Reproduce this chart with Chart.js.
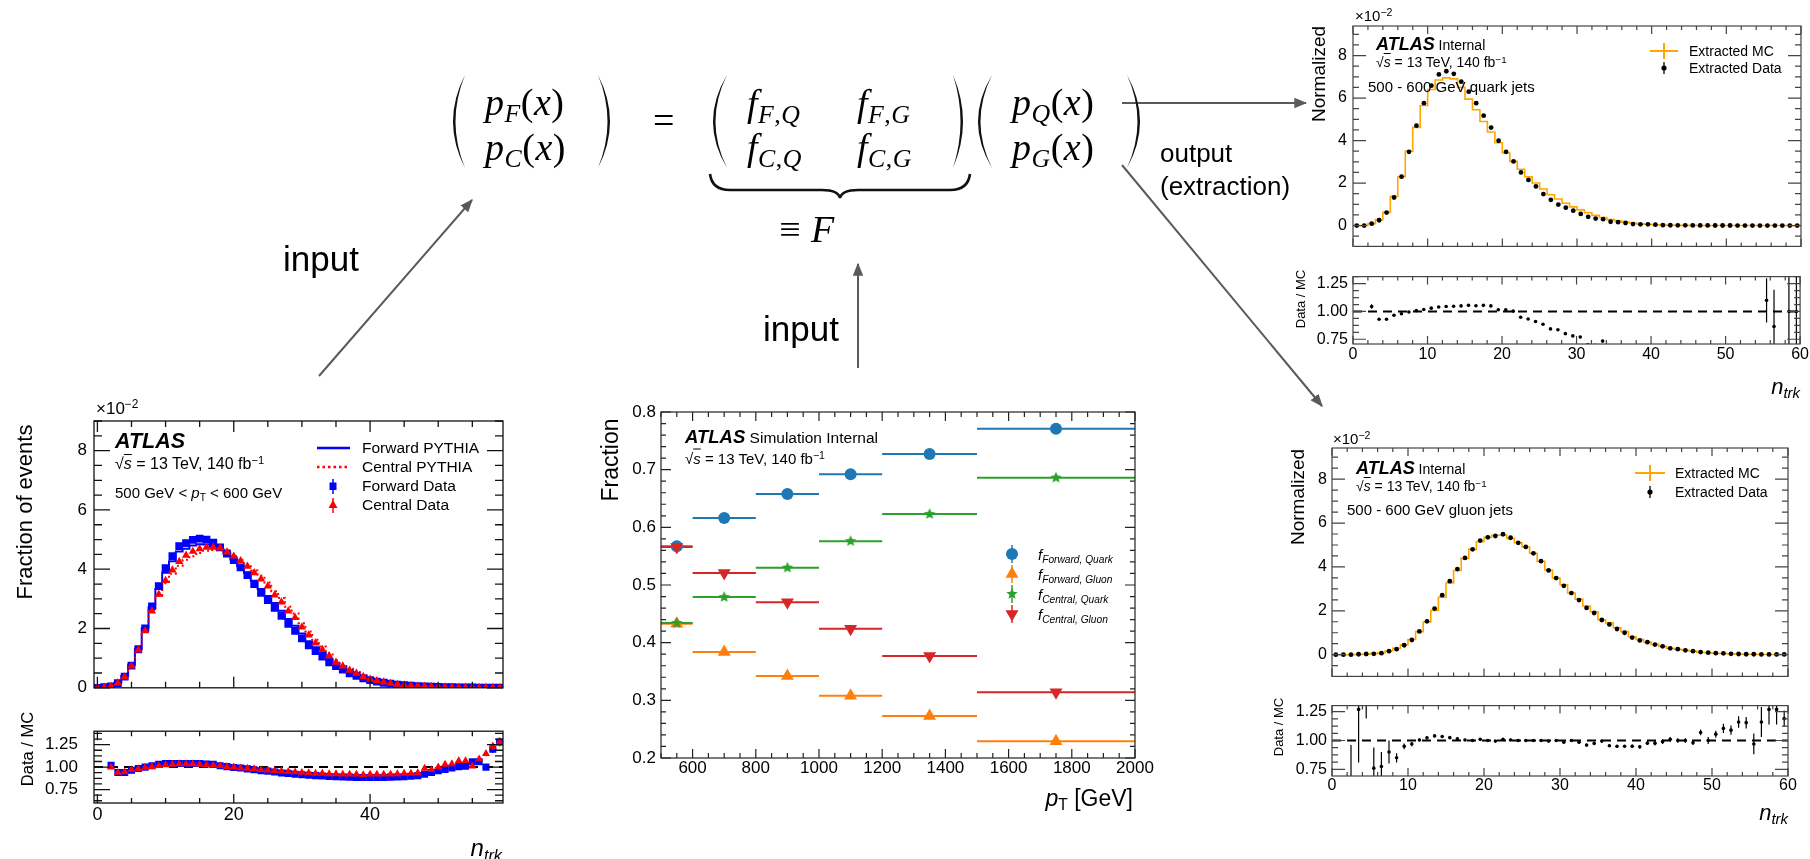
<!DOCTYPE html>
<html><head><meta charset="utf-8">
<script src="https://cdn.jsdelivr.net/npm/chart.js@4.4.0/dist/chart.umd.min.js"></script>
<style>
html,body{margin:0;padding:0;background:#fff;width:1810px;height:859px;overflow:hidden;}
#stage{position:relative;width:1810px;height:859px;font-family:"Liberation Sans",Arial,Helvetica,sans-serif;color:#000;}
#charts canvas{position:absolute;}
svg#ov{position:absolute;left:0;top:0;}
.t{position:absolute;white-space:nowrap;line-height:1;}
sup{font-size:0.7em;vertical-align:0.45em;line-height:0;}
sub{font-size:0.68em;vertical-align:-0.3em;line-height:0;}
.eq{font-family:"Liberation Serif","DejaVu Serif","Times New Roman",serif;font-size:38px;letter-spacing:0.5px;}
.eq sub{font-size:0.68em;vertical-align:-0.28em;}
.ov{text-decoration:overline;font-style:italic;}
</style></head>
<body><div id="stage"><div id="charts"></div>
<svg id="ov" width="1810" height="859" xmlns="http://www.w3.org/2000/svg">
<defs><marker id="ah" viewBox="0 0 10 10" refX="9" refY="5" markerWidth="13" markerHeight="13" markerUnits="userSpaceOnUse" orient="auto"><path d="M0,1 L10,5 L0,9 z" fill="#5a5a5a"/></marker></defs>
<g stroke="#5a5a5a" stroke-width="2" fill="none">
<line x1="319" y1="376" x2="472" y2="200" marker-end="url(#ah)"/>
<line x1="858" y1="368" x2="858" y2="264" marker-end="url(#ah)"/>
<line x1="1122" y1="103" x2="1306" y2="103" marker-end="url(#ah)"/>
<line x1="1122" y1="165" x2="1322" y2="406" marker-end="url(#ah)"/>
</g>
<g fill="#111">
<path d="M465,75 Q441,121.5 465,168 Q446,121.5 465,75 Z"/>
<path d="M598,75 Q622,121.5 598,168 Q617,121.5 598,75 Z"/>
<path d="M727,75 Q699,121.5 727,168 Q704,121.5 727,75 Z"/>
<path d="M953,75 Q973,121.5 953,168 Q968,121.5 953,75 Z"/>
<path d="M992,75 Q964,121.5 992,168 Q969,121.5 992,75 Z"/>
<path d="M1127,75 Q1153,121.5 1127,168 Q1148,121.5 1127,75 Z"/>
</g>
<path d="M710,174 Q712,190 730,190 L822,190 Q838,190 840,198 Q842,190 858,190 L950,190 Q968,190 970,174" stroke="#111" stroke-width="2.6" fill="none"/>
<g id="legsym"></g>
</svg>
<div id="texts"></div>
</div>
<script>
// ================= DATA =================
const nTrk = [0,1,2,3,4,5,6,7,8,9,10,11,12,13,14,15,16,17,18,19,20,21,22,23,24,25,26,27,28,29,30,31,32,33,34,35,36,37,38,39,40,41,42,43,44,45,46,47,48,49,50,51,52,53,54,55,56,57,58,59];

// Left: inclusive forward/central distributions (x10^-2), bins centred on integers
const fwdData = [0.00,0.02,0.05,0.16,0.38,0.75,1.30,2.00,2.75,3.43, 4.04,4.44,4.78,4.88,4.99,5.03,5.00,4.90,4.74,4.53, 4.31,4.06,3.80,3.50,3.20,2.96,2.70,2.43,2.16,1.92, 1.67,1.43,1.24,1.05,0.86,0.73,0.61,0.49,0.40,0.32, 0.26,0.21,0.17,0.14,0.11,0.09,0.075,0.06,0.05,0.04, 0.032,0.026,0.02,0.016,0.013,0.01,0.008,0.006,0.005,0.004];
const cenData = [0.00,0.02,0.05,0.16,0.36,0.73,1.27,1.92,2.59,3.15, 3.62,3.97,4.26,4.47,4.60,4.69,4.74,4.74,4.71,4.58, 4.44,4.28,4.10,3.88,3.67,3.43,3.13,2.89,2.59,2.37, 2.05,1.78,1.51,1.29,1.08,0.86,0.73,0.59,0.49,0.38, 0.29,0.24,0.19,0.15,0.12,0.09,0.075,0.06,0.05,0.04, 0.032,0.026,0.02,0.016,0.013,0.01,0.008,0.006,0.005,0.004];
const fwdMC = [0.00,0.02,0.05,0.17,0.40,0.78,1.32,2.00,2.71,3.33, 3.88,4.27,4.60,4.69,4.80,4.84,4.83,4.76,4.67,4.51, 4.33,4.10,3.88,3.61,3.33,3.10,2.86,2.60,2.32,2.09, 1.83,1.57,1.37,1.17,0.96,0.82,0.69,0.55,0.45,0.36, 0.29,0.24,0.19,0.16,0.124,0.10,0.083,0.066,0.054,0.043, 0.033,0.027,0.02,0.016,0.013,0.009,0.0075,0.006,0.004,0.003];
const cenMC = [0.00,0.02,0.05,0.17,0.38,0.75,1.30,1.93,2.58,3.10, 3.53,3.85,4.12,4.32,4.44,4.55,4.62,4.65,4.64,4.56, 4.44,4.32,4.16,3.96,3.78,3.55,3.26,3.03,2.73,2.51, 2.18,1.90,1.62,1.39,1.17,0.93,0.79,0.64,0.53,0.42, 0.32,0.26,0.21,0.16,0.13,0.097,0.08,0.064,0.051,0.042, 0.032,0.025,0.019,0.015,0.012,0.01,0.007,0.005,0.004,0.003];
const fwdRatio = [null,null,1.02,0.94,0.94,0.965,0.985,1.0,1.015,1.03, 1.04,1.04,1.04,1.04,1.04,1.04,1.035,1.03,1.015,1.005, 0.995,0.99,0.98,0.97,0.96,0.955,0.945,0.935,0.93,0.92, 0.915,0.91,0.905,0.90,0.895,0.893,0.89,0.888,0.885,0.885, 0.885,0.885,0.885,0.888,0.89,0.892,0.898,0.905,0.92,0.94, 0.96,0.975,0.99,1.005,1.01,1.06,1.06,1.0,1.2,1.28];
const cenRatio = [null,null,1.0,0.94,0.945,0.97,0.98,0.995,1.005,1.015, 1.025,1.03,1.035,1.035,1.035,1.03,1.025,1.02,1.015,1.005, 1.0,0.99,0.985,0.98,0.97,0.965,0.96,0.955,0.95,0.945, 0.94,0.935,0.93,0.93,0.925,0.925,0.92,0.92,0.92,0.915, 0.92,0.92,0.92,0.92,0.925,0.93,0.93,0.935,0.985,0.97, 1.0,1.03,1.035,1.07,1.07,1.01,1.09,1.15,1.23,1.28];
const fwdRatioErr = [0,0,0,0,0,0,0,0,0,0, 0,0,0,0,0,0,0,0,0,0, 0,0,0,0,0,0,0,0,0,0, 0,0,0,0,0,0,0,0,0,0, 0,0,0,0,0,0,0,0,0,0, 0,0,0,0,0,0,0.02,0.02,0.04,0.04];
const cenRatioErr = [0,0,0,0,0,0,0,0,0,0, 0,0,0,0,0,0,0,0,0,0, 0,0,0,0,0,0,0,0,0,0, 0,0,0,0,0,0,0,0,0,0, 0,0,0,0,0,0,0,0,0,0, 0,0,0,0,0,0,0.02,0.03,0.04,0.05];

// Middle: fractions vs pT
const ptBinLow  = [500, 600, 800, 1000, 1200, 1500];
const ptBinHigh = [600, 800, 1000, 1200, 1500, 2000];
const ptCenter  = [550, 700, 900, 1100, 1350, 1750];
const fFwdQuark = [0.567, 0.616, 0.658, 0.692, 0.727, 0.771];
const fFwdGluon = [0.433, 0.384, 0.342, 0.308, 0.273, 0.229];
const fCenQuark = [0.434, 0.479, 0.530, 0.576, 0.623, 0.686];
const fCenGluon = [0.566, 0.521, 0.470, 0.424, 0.377, 0.314];

// Right: extracted quark / gluon (x10^-2), bins [n, n+1]
const quarkData = [0.00,0.00,0.09,0.25,0.61,1.32,2.30,3.47,4.70,5.76, 6.58,7.11,7.26,7.14,6.77,6.30,5.76,5.17,4.61,3.99, 3.47,3.02,2.50,2.15,1.84,1.48,1.21,0.99,0.84,0.70, 0.55,0.41,0.33,0.30,0.18,0.16,0.12,0.07,0.06,0.06, 0.04,0.02,0.015,0.01,0.01,0.008,0.006,0.005,0.004,0.003, 0.003,0.002,0.002,0.002,0.001,0.001,0.001,0.001,0.001,0.001];
const quarkMC = [0.00,0.00,0.09,0.28,0.62,1.38,2.30,3.50,4.62,5.65, 6.40,6.85,6.95,6.90,6.50,5.95,5.45,4.90,4.40,3.90, 3.42,3.02,2.65,2.30,2.00,1.72,1.45,1.25,1.05,0.88, 0.74,0.60,0.48,0.38,0.28,0.22,0.16,0.12,0.08,0.06, 0.04,0.03,0.02,0.015,0.01,0.008,0.006,0.005,0.004,0.003, 0.003,0.002,0.002,0.002,0.001,0.001,0.001,0.001,0.001,0.001];
const quarkRatio = [null,null,1.045,0.93,0.93,0.966,0.98,0.995,1.008,1.018, 1.03,1.04,1.045,1.047,1.05,1.055,1.052,1.055,1.05,1.016, 1.016,1.003,0.948,0.932,0.91,0.885,0.843,0.835,0.80,0.78, 0.77,0.70,0.695,0.733,null,null,null,null,null,null, null,null,null,null,null,null,null,null,null,null, null,null,null,null,null,1.10,0.865,null,1.0,1.0];
const quarkRatioErr = [0,0,0.02,0,0,0,0,0,0,0, 0,0,0,0,0,0,0,0,0,0, 0,0,0,0,0,0,0,0,0,0, 0.012,0,0,0.012,0,0,0,0,0,0, 0,0,0,0,0,0,0,0,0,0, 0,0,0,0,0,0.2,0.33,0,0.6,0.4];
const gluonData = [0.00,0.00,0.00,0.02,0.03,0.04,0.07,0.16,0.25,0.43, 0.67,1.06,1.52,2.10,2.71,3.35,3.90,4.41,4.80,5.20, 5.35,5.41,5.49,5.33,5.10,4.91,4.62,4.26,3.84,3.49, 3.14,2.81,2.49,2.13,1.90,1.58,1.38,1.17,1.00,0.78, 0.65,0.57,0.46,0.38,0.29,0.25,0.20,0.16,0.12,0.09, 0.07,0.06,0.04,0.03,0.02,0.02,0.01,0.01,0.01,0.01];
const gluonMC = [0.00,0.00,0.00,0.015,0.025,0.05,0.09,0.18,0.29,0.45, 0.69,1.05,1.49,2.02,2.62,3.27,3.84,4.39,4.80,5.15, 5.35,5.44,5.44,5.30,5.10,4.91,4.62,4.26,3.86,3.49, 3.19,2.81,2.53,2.22,1.95,1.59,1.45,1.23,1.05,0.82, 0.69,0.58,0.47,0.38,0.29,0.25,0.20,0.16,0.11,0.09, 0.066,0.054,0.037,0.026,0.017,0.02,0.009,0.008,0.008,0.008];
const gluonRatio = [null,null,0.55,1.27,1.45,0.76,0.775,0.90,0.85,0.95, 0.97,1.005,1.023,1.04,1.035,1.025,1.015,1.005,1.0,1.01, 1.0,0.995,1.01,1.005,1.0,1.0,1.0,1.0,0.995,1.0, 0.985,1.0,0.985,0.96,0.975,0.995,0.955,0.95,0.95,0.95, 0.945,0.977,0.977,0.99,1.01,1.0,1.0,0.98,1.07,1.0, 1.055,1.105,1.09,1.16,1.155,0.97,1.16,1.27,1.27,1.19];
const gluonRatioErr = [0,0,0.41,0.46,0.26,0.18,0.125,0.10,0.04,0.025, 0.02,0.012,0.01,0.01,0.01,0.01,0.01,0.01,0.01,0.01, 0.01,0.01,0.01,0.01,0.01,0.01,0.01,0.01,0.01,0.01, 0.01,0.01,0.012,0.012,0.012,0.012,0.012,0.012,0.012,0.015, 0.015,0.015,0.02,0.02,0.02,0.02,0.02,0.02,0.025,0.03, 0.03,0.04,0.04,0.05,0.05,0.09,0.13,0.13,0.13,0.07];

// Tick values / labels
const nTrkTicksLeft = [0, 20, 40];
const nTrkLabelsLeft = ['0', '20', '40'];
const nTrkTicksRight = [0, 10, 20, 30, 40, 50, 60];
const nTrkLabelsRight = ['0', '10', '20', '30', '40', '50', '60'];
const normTicks = [0, 2, 4, 6, 8];
const normLabels = ['0', '2', '4', '6', '8'];
const ratioTicks = [0.75, 1.00, 1.25];
const ratioLabels = ['0.75', '1.00', '1.25'];
const ptTicks = [600, 800, 1000, 1200, 1400, 1600, 1800, 2000];
const ptLabels = ['600', '800', '1000', '1200', '1400', '1600', '1800', '2000'];
const fracTicks = [0.2, 0.3, 0.4, 0.5, 0.6, 0.7, 0.8];
const fracLabels = ['0.2', '0.3', '0.4', '0.5', '0.6', '0.7', '0.8'];

// ================= HELPERS =================
const FONT = "'Liberation Sans', Arial, Helvetica, sans-serif";
const charts = document.getElementById('charts');

const rootFrame = {
  id: 'rootFrame',
  afterDatasetsDraw(chart, args, o) {
    const ctx = chart.ctx, a = chart.chartArea, xs = chart.scales.x, ys = chart.scales.y;
    ctx.save();
    ctx.strokeStyle = o.color || '#222';
    ctx.lineWidth = o.lw || 1.2;
    ctx.beginPath();
    function ticks(scale, minor, major, lenMaj, lenMin, horiz) {
      const i0 = Math.ceil(scale.min / minor - 1e-6), i1 = Math.floor(scale.max / minor + 1e-6);
      for (let i = i0; i <= i1; i++) {
        const v = i * minor, r = v / major;
        const len = Math.abs(r - Math.round(r)) < 1e-6 ? lenMaj : lenMin;
        const p = scale.getPixelForValue(v);
        if (horiz) {
          ctx.moveTo(p, a.bottom); ctx.lineTo(p, a.bottom - len);
          ctx.moveTo(p, a.top); ctx.lineTo(p, a.top + len);
        } else {
          ctx.moveTo(a.left, p); ctx.lineTo(a.left + len, p);
          ctx.moveTo(a.right, p); ctx.lineTo(a.right - len, p);
        }
      }
    }
    ticks(xs, o.xMinor, o.xMajor, o.xMajLen, o.xMinLen, true);
    ticks(ys, o.yMinor, o.yMajor, o.yMajLen, o.yMinLen, false);
    ctx.stroke();
    ctx.strokeRect(a.left, a.top, a.right - a.left, a.bottom - a.top);
    ctx.restore();
  }
};

const errBars = {
  id: 'errBars',
  afterDatasetsDraw(chart) {
    const ctx = chart.ctx, a = chart.chartArea, ys = chart.scales.y;
    ctx.save();
    ctx.beginPath(); ctx.rect(a.left, a.top, a.right - a.left, a.bottom - a.top); ctx.clip();
    chart.data.datasets.forEach((ds, di) => {
      if (!ds.errY) return;
      const meta = chart.getDatasetMeta(di);
      ctx.strokeStyle = ds.errColor || '#000';
      ctx.lineWidth = ds.errWidth || 1;
      meta.data.forEach((el, i) => {
        const e = ds.errY[i], d = ds.data[i];
        if (!e || d == null || d.y == null || !isFinite(el.x)) return;
        ctx.beginPath();
        ctx.moveTo(el.x, ys.getPixelForValue(d.y - e));
        ctx.lineTo(el.x, ys.getPixelForValue(d.y + e));
        ctx.stroke();
      });
    });
    ctx.restore();
  }
};

function makeChart(box, frame, datasets, ax, fr) {
  const cv = document.createElement('canvas');
  cv.width = box.w; cv.height = box.h;
  cv.style.left = box.x + 'px'; cv.style.top = box.y + 'px';
  cv.style.width = box.w + 'px'; cv.style.height = box.h + 'px';
  charts.appendChild(cv);
  const yW = frame.l - box.x, xH = box.y + box.h - frame.b;
  return new Chart(cv, {
    type: 'line',
    data: { datasets },
    options: {
      responsive: false, animation: false, devicePixelRatio: 1, events: [],
      layout: { autoPadding: false, padding: { left: 0, bottom: 0, top: frame.t - box.y, right: box.x + box.w - frame.r } },
      plugins: { legend: { display: false }, tooltip: { enabled: false }, rootFrame: fr },
      scales: {
        x: {
          type: 'linear', min: ax.xMin, max: ax.xMax,
          afterBuildTicks: s => { s.ticks = ax.xTicks.map(v => ({ value: v })); },
          afterFit: s => { s.height = xH; },
          grid: { display: false, drawTicks: false }, border: { display: false },
          ticks: { display: !!ax.xLabels, autoSkip: false, maxRotation: 0, minRotation: 0, padding: ax.xPad || 0,
                   color: '#000', font: { family: FONT, size: ax.xFont || 16 },
                   callback: (v, i) => ax.xLabels ? ax.xLabels[i] : '' }
        },
        y: {
          type: 'linear', min: ax.yMin, max: ax.yMax,
          afterBuildTicks: s => { s.ticks = ax.yTicks.map(v => ({ value: v })); },
          afterFit: s => { s.width = yW; },
          grid: { display: false, drawTicks: false }, border: { display: false },
          ticks: { autoSkip: false, padding: ax.yPad, color: '#000', font: { family: FONT, size: ax.yFont },
                   callback: (v, i) => ax.yLabels[i] }
        }
      }
    },
    plugins: [errBars, rootFrame]
  });
}

function stepData(edges, vals, lastEdge) {
  const d = edges.map((e, i) => ({ x: e, y: vals[i] }));
  d.push({ x: lastEdge, y: vals[vals.length - 1] });
  return d;
}
function pts(xs, vals) { return xs.map((x, i) => ({ x: x, y: vals[i] })); }
function stepDS(data, color, width, dash, order) {
  // 'before' in Chart.js = horizontal first, then vertical: each bin keeps its own value over [low, high]
  return { data, stepped: 'before', borderColor: color, borderWidth: width, borderDash: dash || [], pointRadius: 0, fill: false, order };
}
function markDS(data, style, r, color, order, extra) {
  return Object.assign({ data, showLine: false, pointStyle: style, pointRadius: r, backgroundColor: color,
    borderColor: color, pointBorderWidth: 0, order }, extra || {});
}
function hline(x0, x1, y) {
  return { data: [{ x: x0, y }, { x: x1, y }], borderColor: '#000', borderWidth: 2, borderDash: [9, 6], pointRadius: 0, fill: false, order: 9 };
}
function starImg(r, color) {
  const c = document.createElement('canvas'); const s = Math.ceil(2 * r + 2);
  c.width = c.height = s; const g = c.getContext('2d'); g.fillStyle = color; g.beginPath();
  for (let k = 0; k < 10; k++) {
    const ang = -Math.PI / 2 + k * Math.PI / 5, rr = k % 2 ? r * 0.45 : r;
    g.lineTo(s / 2 + rr * Math.cos(ang), s / 2 + rr * Math.sin(ang));
  }
  g.closePath(); g.fill(); return c;
}

// ================= LEFT CHART =================
const nLeft = nTrk;                         // bin centres
const nLeftEdges = nTrk.map(n => n - 0.5);  // bin low edges
const leftX = { xMin: -0.5, xMax: 59.5 };
makeChart({ x: 0, y: 395, w: 520, h: 310 }, { l: 94, t: 421, r: 503, b: 701 }, [
  stepDS(stepData(nLeftEdges, fwdMC, 59.5), '#0000ff', 2, [], 4),
  stepDS(stepData(nLeftEdges, cenMC, 59.5), '#ff0000', 2, [2, 3], 3),
  markDS(pts(nLeft, fwdData), 'rect', 5.5, '#0000ff', 2),
  markDS(pts(nLeft, cenData), 'triangle', 4.8, '#ff0000', 1)
], Object.assign({ xTicks: nTrkTicksLeft, yMin: 0, yMax: 9, yTicks: normTicks, yLabels: normLabels, yPad: 7, yFont: 17 }, leftX),
{ xMinor: 5, xMajor: 20, xMajLen: 11, xMinLen: 6, yMinor: 0.5, yMajor: 2, yMajLen: 16, yMinLen: 8, color: '#111', lw: 1.3 });

makeChart({ x: 0, y: 705, w: 520, h: 154 }, { l: 94, t: 711, r: 503, b: 803 }, [
  hline(-0.5, 59.5, 1.0),
  markDS(pts(nLeft, fwdRatio), 'rect', 5, '#0000ff', 2, { errY: fwdRatioErr, errColor: '#0000ff', errWidth: 1.5 }),
  markDS(pts(nLeft, cenRatio), 'triangle', 4.6, '#ff0000', 1, { errY: cenRatioErr, errColor: '#ff0000', errWidth: 1.5 })
], Object.assign({ xTicks: nTrkTicksLeft, xLabels: nTrkLabelsLeft, xPad: 1, xFont: 18, yMin: 0.6, yMax: 1.4, yTicks: ratioTicks, yLabels: ratioLabels, yPad: 16, yFont: 17 }, leftX),
{ xMinor: 5, xMajor: 20, xMajLen: 9, xMinLen: 5, yMinor: 0.0625, yMajor: 0.25, yMajLen: 16, yMinLen: 8, color: '#111', lw: 1.3 });

// ================= MIDDLE CHART =================
function binLines(vals) {
  const d = [];
  vals.forEach((v, i) => { d.push({ x: ptBinLow[i], y: v }, { x: ptBinHigh[i], y: v }, { x: ptBinHigh[i], y: null }); });
  return d;
}
const cBlue = '#1f77b4', cOrange = '#ff7f0e', cGreen = '#2ca02c', cRed = '#d62728';
const binDS = (vals, col, order) => ({ data: binLines(vals), borderColor: col, borderWidth: 2, pointRadius: 0, fill: false, spanGaps: false, order });
makeChart({ x: 600, y: 395, w: 560, h: 400 }, { l: 661, t: 412, r: 1135, b: 758 }, [
  binDS(fFwdQuark, cBlue, 8), binDS(fFwdGluon, cOrange, 7), binDS(fCenQuark, cGreen, 6), binDS(fCenGluon, cRed, 5),
  markDS(pts(ptCenter, fFwdQuark), 'circle', 6, cBlue, 4),
  markDS(pts(ptCenter, fFwdGluon), 'triangle', 7.5, cOrange, 3),
  markDS(pts(ptCenter, fCenQuark), starImg(6, cGreen), 6, cGreen, 2),
  markDS(pts(ptCenter, fCenGluon), 'triangle', 7.5, cRed, 1, { rotation: 180 })
], { xMin: 500, xMax: 2000, xTicks: ptTicks, xLabels: ptLabels, xPad: 0, xFont: 17,
     yMin: 0.2, yMax: 0.8, yTicks: fracTicks, yLabels: fracLabels, yPad: 5, yFont: 17 },
{ xMinor: 50, xMajor: 200, xMajLen: 9, xMinLen: 5, yMinor: 0.02, yMajor: 0.1, yMajLen: 10, yMinLen: 5, color: '#222', lw: 1.2 });

// ================= RIGHT CHARTS =================
const nRightEdges = nTrk;                     // low edges
const nRightCent = nTrk.map(n => n + 0.5);    // bin centres
const rightX = { xMin: 0, xMax: 60, xTicks: nTrkTicksRight };
const orangeMC = 'rgb(255,166,0)';
const mainFr = { xMinor: 2, xMajor: 10, xMajLen: 8, xMinLen: 4, yMinor: 0.5, yMajor: 2, yMajLen: 13, yMinLen: 6, color: '#444', lw: 1.2 };
const ratFr = { xMinor: 2, xMajor: 10, xMajLen: 8, xMinLen: 4, yMinor: 0.0625, yMajor: 0.25, yMajLen: 13, yMinLen: 6, color: '#444', lw: 1.2 };

// quark
makeChart({ x: 1290, y: 0, w: 520, h: 262 }, { l: 1353, t: 26, r: 1801, b: 259 }, [
  stepDS(stepData(nRightEdges, quarkMC, 60), orangeMC, 1.6, [], 2),
  markDS(pts(nRightCent, quarkData), 'circle', 2.4, '#000', 1)
], Object.assign({ yMin: -0.98, yMax: 9.39, yTicks: normTicks, yLabels: normLabels, yPad: 6, yFont: 16 }, rightX), mainFr);
makeChart({ x: 1290, y: 262, w: 520, h: 110 }, { l: 1353, t: 267, r: 1801, b: 344 }, [
  hline(0, 60, 1.0),
  markDS(pts(nRightCent, quarkRatio), 'circle', 1.8, '#000', 1, { errY: quarkRatioErr, errColor: '#000', errWidth: 1.2 })
], Object.assign({ xLabels: nTrkLabelsRight, xPad: 1, xFont: 16, yMin: 0.707, yMax: 1.314, yTicks: ratioTicks, yLabels: ratioLabels, yPad: 5, yFont: 16 }, rightX), ratFr);

// gluon
makeChart({ x: 1250, y: 420, w: 560, h: 271 }, { l: 1332, t: 448, r: 1788, b: 688 }, [
  stepDS(stepData(nRightEdges, gluonMC, 60), orangeMC, 1.6, [], 2),
  markDS(pts(nRightCent, gluonData), 'circle', 2.4, '#000', 1)
], Object.assign({ yMin: -0.99, yMax: 9.42, yTicks: normTicks, yLabels: normLabels, yPad: 5, yFont: 16 }, rightX), mainFr);
makeChart({ x: 1250, y: 691, w: 560, h: 110 }, { l: 1332, t: 695, r: 1788, b: 776 }, [
  hline(0, 60, 1.0),
  markDS(pts(nRightCent, gluonRatio), 'circle', 1.8, '#000', 1, { errY: gluonRatioErr, errColor: '#000', errWidth: 1.2 })
], Object.assign({ xLabels: nTrkLabelsRight, xPad: 0, xFont: 16, yMin: 0.692, yMax: 1.303, yTicks: ratioTicks, yLabels: ratioLabels, yPad: 5, yFont: 16 }, rightX), ratFr);

// ================= TEXT =================
const texts = document.getElementById('texts');
function T(x, y, html, css, mode) {
  const d = document.createElement('div');
  d.className = 't'; d.innerHTML = html;
  d.style.cssText += css || '';
  if (mode === 'rot') { d.style.left = x + 'px'; d.style.top = y + 'px'; d.style.transform = 'translate(-50%,-50%) rotate(-90deg)'; }
  else if (mode === 'right') { d.style.right = (1810 - x) + 'px'; d.style.top = y + 'px'; d.style.transform = 'translateY(-50%)'; }
  else if (mode === 'center') { d.style.left = x + 'px'; d.style.top = y + 'px'; d.style.transform = 'translate(-50%,-50%)'; }
  else { d.style.left = x + 'px'; d.style.top = y + 'px'; d.style.transform = 'translateY(-50%)'; }
  texts.appendChild(d);
  return d;
}
const sqrtS = '√<span class="ov">s</span> = 13 TeV, 140 fb<sup>−1</sup>';
const atlas = (sz, rest, rsz) => `<b><i style="font-size:${sz}px">ATLAS</i></b><span style="font-size:${rsz}px"> ${rest}</span>`;
const ntrk = '<i>n</i><sub><i>trk</i></sub>';

// equation
T(485, 102, '<i>p</i><sub><i>F</i></sub>(<i>x</i>)').classList.add('eq');
T(485, 147, '<i>p</i><sub><i>C</i></sub>(<i>x</i>)').classList.add('eq');
T(664, 120, '=', '', 'center').classList.add('eq');
T(747, 103, '<i>f</i><sub><i>F</i>,<i>Q</i></sub>').classList.add('eq');
T(857, 103, '<i>f</i><sub><i>F</i>,<i>G</i></sub>').classList.add('eq');
T(747, 147, '<i>f</i><sub><i>C</i>,<i>Q</i></sub>').classList.add('eq');
T(857, 147, '<i>f</i><sub><i>C</i>,<i>G</i></sub>').classList.add('eq');
T(1012, 102, '<i>p</i><sub><i>Q</i></sub>(<i>x</i>)').classList.add('eq');
T(1012, 147, '<i>p</i><sub><i>G</i></sub>(<i>x</i>)').classList.add('eq');
T(807, 229, '≡ <i>F</i>', '', 'center').classList.add('eq');

T(283, 258, 'input', 'font-size:35px;');
T(763, 328, 'input', 'font-size:35px;');
T(1160, 153, 'output', 'font-size:26px;');
T(1160, 186, '(extraction)', 'font-size:26px;');

// left chart text
T(96, 408, '×10<sup>−2</sup>', 'font-size:17px;');
T(25, 512, 'Fraction of events', 'font-size:22px;', 'rot');
T(27, 749, 'Data / MC', 'font-size:16.5px;', 'rot');
T(502, 848, ntrk, 'font-size:24px;', 'right');
T(115, 442, atlas(21.5, '', 16), '');
T(115, 464, sqrtS, 'font-size:16px;');
T(115, 492, '500 GeV &lt; <i>p</i><sub>T</sub> &lt; 600 GeV', 'font-size:15px;');
T(362, 448, 'Forward PYTHIA', 'font-size:15.5px;');
T(362, 467, 'Central PYTHIA', 'font-size:15.5px;');
T(362, 486, 'Forward Data', 'font-size:15.5px;');
T(362, 505, 'Central Data', 'font-size:15.5px;');

// middle chart text
T(610, 460, 'Fraction', 'font-size:23px;', 'rot');
T(1133, 798, '<i>p</i><sub>T</sub> [GeV]', 'font-size:23px;', 'right');
T(685, 437, atlas(18.5, 'Simulation Internal', 15.5), '');
T(685, 458, sqrtS, 'font-size:15px;');
const fsub = s => `<i>f</i><sub><i>${s}</i></sub>`;
T(1038, 554, fsub('Forward, Quark'), 'font-size:15px;');
T(1038, 574, fsub('Forward, Gluon'), 'font-size:15px;');
T(1038, 594, fsub('Central, Quark'), 'font-size:15px;');
T(1038, 614, fsub('Central, Gluon'), 'font-size:15px;');

// top-right text
T(1355, 15, '×10<sup>−2</sup>', 'font-size:15px;');
T(1318, 74, 'Normalized', 'font-size:19px;', 'rot');
T(1300, 299, 'Data / MC', 'font-size:13px;', 'rot');
T(1800, 387, ntrk, 'font-size:22px;', 'right');
T(1376, 44, atlas(18, 'Internal', 14), '');
T(1376, 62, sqrtS, 'font-size:14px;');
T(1368, 86, '500 - 600 GeV quark jets', 'font-size:15px;');
T(1689, 51, 'Extracted MC', 'font-size:14px;');
T(1689, 68, 'Extracted Data', 'font-size:14px;');

// bottom-right text
T(1333, 438, '×10<sup>−2</sup>', 'font-size:15px;');
T(1297, 497, 'Normalized', 'font-size:19px;', 'rot');
T(1278, 727, 'Data / MC', 'font-size:13px;', 'rot');
T(1788, 813, ntrk, 'font-size:22px;', 'right');
T(1356, 468, atlas(18, 'Internal', 14), '');
T(1356, 486, sqrtS, 'font-size:14px;');
T(1347, 509, '500 - 600 GeV gluon jets', 'font-size:15px;');
T(1675, 473, 'Extracted MC', 'font-size:14px;');
T(1675, 492, 'Extracted Data', 'font-size:14px;');

// ================= LEGEND SYMBOLS =================
const NS = 'http://www.w3.org/2000/svg';
const lg = document.getElementById('legsym');
function S(tag, attrs) { const e = document.createElementNS(NS, tag); for (const k in attrs) e.setAttribute(k, attrs[k]); lg.appendChild(e); }
// left
S('line', { x1: 317, y1: 448, x2: 350, y2: 448, stroke: '#0000ff', 'stroke-width': 2.5 });
S('line', { x1: 317, y1: 467, x2: 350, y2: 467, stroke: '#ff0000', 'stroke-width': 2.5, 'stroke-dasharray': '2.5 3' });
S('line', { x1: 333, y1: 479, x2: 333, y2: 494, stroke: '#0000ff', 'stroke-width': 1.5 });
S('rect', { x: 329.5, y: 482.5, width: 7, height: 7.5, fill: '#0000ff' });
S('line', { x1: 333, y1: 498, x2: 333, y2: 513, stroke: '#ff0000', 'stroke-width': 1.5 });
S('polygon', { points: '333,500 328.5,508 337.5,508', fill: '#ff0000' });
// middle
[[554, cBlue], [574, cOrange], [594, cGreen], [614, cRed]].forEach(([y, c]) => S('line', { x1: 1012, y1: y - 9, x2: 1012, y2: y + 9, stroke: c, 'stroke-width': 1.5 }));
S('circle', { cx: 1012, cy: 554, r: 6, fill: cBlue });
S('polygon', { points: '1012,566.5 1005.5,577.8 1018.5,577.8', fill: cOrange });
(function () { let p = []; for (let k = 0; k < 10; k++) { const a = -Math.PI / 2 + k * Math.PI / 5, rr = k % 2 ? 2.7 : 6; p.push((1012 + rr * Math.cos(a)).toFixed(2) + ',' + (594 + rr * Math.sin(a)).toFixed(2)); } S('polygon', { points: p.join(' '), fill: cGreen }); })();
S('polygon', { points: '1012,621.5 1005.5,610.2 1018.5,610.2', fill: cRed });
// top right
S('line', { x1: 1650, y1: 51, x2: 1678, y2: 51, stroke: orangeMC, 'stroke-width': 2 });
S('line', { x1: 1664, y1: 43, x2: 1664, y2: 59, stroke: orangeMC, 'stroke-width': 2 });
S('line', { x1: 1664, y1: 62, x2: 1664, y2: 74, stroke: '#000', 'stroke-width': 1.3 });
S('circle', { cx: 1664, cy: 68, r: 2.6, fill: '#000' });
// bottom right
S('line', { x1: 1635, y1: 473, x2: 1665, y2: 473, stroke: orangeMC, 'stroke-width': 2 });
S('line', { x1: 1650, y1: 465, x2: 1650, y2: 481, stroke: orangeMC, 'stroke-width': 2 });
S('line', { x1: 1650, y1: 486, x2: 1650, y2: 498, stroke: '#000', 'stroke-width': 1.3 });
S('circle', { cx: 1650, cy: 492, r: 2.6, fill: '#000' });
</script>
</body></html>
